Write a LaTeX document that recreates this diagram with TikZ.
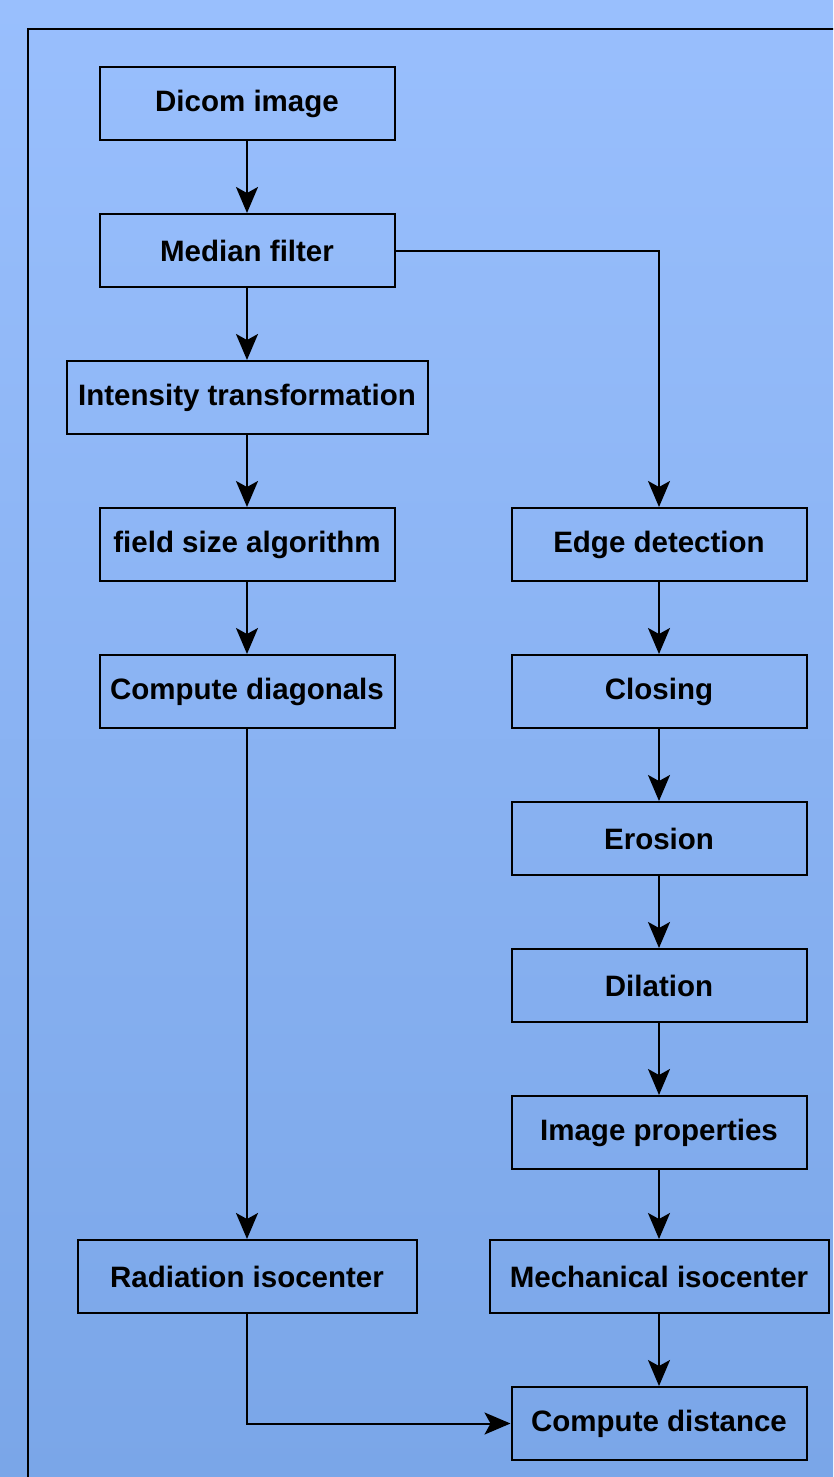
\documentclass[tikz,border=0pt]{standalone}
\usepackage{fontspec}
\setmainfont{Liberation Sans}
\usepackage{tikz}
\usetikzlibrary{arrows.meta,positioning}

\begin{document}
\begin{tikzpicture}[x=1pt, y=-1pt, font=\fontsize{29.5}{32}\selectfont\bfseries]

        \definecolor{bgtop}{RGB}{153, 191, 253}
        \definecolor{bgbottom}{RGB}{122, 166, 232}
        \tikzset{
            process/.style={draw=black, line width=2pt, minimum width=295pt, minimum height=73pt, inner sep=0pt, align=center},
            widebox/.style={process, minimum width=339pt},
            widerbox/.style={process, minimum width=361pt},
            arrow/.style={-{Stealth[length=26pt, width=22pt, inset=6pt]}, line width=2pt, draw=black},
            frame/.style={draw=black, line width=2pt}
        }

        \useasboundingbox (0, 0) rectangle (833, 1477);
        \clip (0, 0) rectangle (833, 1477);
        \shade[top color=bgtop, bottom color=bgbottom] (0, 0) rectangle (833, 1477);
        \draw[frame] (28, 29) rectangle (860, 1500);


        \node[process] (dicom) at (247, 103.5) {Dicom image};
        \node[process] (median) at (247, 250.5) {Median filter};
        \node[widerbox] (intensity) at (247, 397.5) {Intensity transformation};
        \node[process] (fieldsize) at (247, 544.5) {field size algorithm};
        \node[process] (diagonals) at (247, 691.5) {Compute diagonals};
        \node[widebox] (rad_iso) at (247, 1276.5) {Radiation isocenter};


        \node[process] (edge) at (659, 544.5) {Edge detection};
        \node[process] (closing) at (659, 691.5) {Closing};
        \node[process] (erosion) at (659, 838.5) {Erosion};
        \node[process] (dilation) at (659, 985.5) {Dilation};
        \node[process] (img_props) at (659, 1132.5) {Image properties};
        \node[widebox] (mech_iso) at (659, 1276.5) {Mechanical isocenter};
        \node[process] (distance) at (659, 1423.5) {Compute distance};


        \draw[arrow] (dicom) -- (median);
        \draw[arrow] (median) -- (intensity);
        \draw[arrow] (intensity) -- (fieldsize);
        \draw[arrow] (fieldsize) -- (diagonals);
        \draw[arrow] (diagonals) -- (rad_iso);


        \draw[arrow] (median.east) -| (edge.north);
        \draw[arrow] (edge) -- (closing);
        \draw[arrow] (closing) -- (erosion);
        \draw[arrow] (erosion) -- (dilation);
        \draw[arrow] (dilation) -- (img_props);
        \draw[arrow] (img_props) -- (mech_iso);
        \draw[arrow] (mech_iso) -- (distance);


        \draw[arrow] (rad_iso.south) |- (distance.west);

    \end{tikzpicture}
\end{document}
